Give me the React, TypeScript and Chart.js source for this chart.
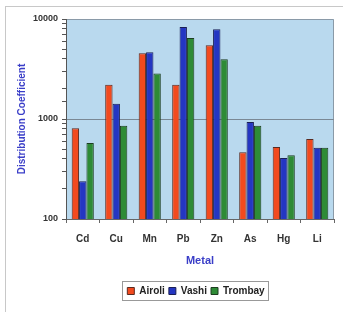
import React, { useEffect, useRef } from "react";
import { Chart, registerables } from "chart.js";
Chart.register(...registerables);

const categories = ["Cd", "Cu", "Mn", "Pb", "Zn", "As", "Hg", "Li"];
const airoli = [810, 2200, 4540, 2200, 5460, 464, 525, 630];
const vashi = [238, 1420, 4650, 8300, 7900, 935, 408, 515];
const trombay = [575, 855, 2850, 6440, 3950, 855, 435, 515];
const yLabels = [100, 1000, 10000];

const frame = {
  id: "frame",
  beforeDraw(chart: any) {
    const { ctx, chartArea: a } = chart;
    ctx.save();
    ctx.fillStyle = "#ffffff";
    ctx.fillRect(0, 0, chart.width, chart.height);
    ctx.strokeStyle = "#c8c8c8";
    ctx.lineWidth = 1;
    ctx.strokeRect(5.5, 6.5, chart.width, chart.height);
    ctx.fillStyle = "#b9d9ee";
    ctx.fillRect(a.left, a.top, a.right - a.left, a.bottom - a.top);
    ctx.strokeStyle = "#8a9aa8";
    ctx.beginPath();
    ctx.moveTo(a.left, a.top + 0.5);
    ctx.lineTo(a.right - 0.5, a.top + 0.5);
    ctx.lineTo(a.right - 0.5, a.bottom);
    ctx.stroke();
    ctx.restore();
  },
  afterLayout(chart: any) {
    const lg = chart.legend;
    if (lg) {
      lg.left += 24;
      lg.right += 24;
    }
  },
  afterDraw(chart: any) {
    const lg = chart.legend;
    if (!lg || !lg.legendHitBoxes || !lg.legendHitBoxes.length) return;
    const hb = lg.legendHitBoxes;
    const ctx = chart.ctx;
    const first = hb[0];
    const last = hb[hb.length - 1];
    ctx.save();
    ctx.strokeStyle = "#999999";
    ctx.lineWidth = 1;
    const x0 = Math.round(first.left) - 4.5;
    const x1 = Math.round(last.left + last.width) + 3.5;
    const y0 = Math.round(first.top) - 4.5;
    const y1 = Math.round(first.top + first.height) + 4.5;
    ctx.strokeRect(x0, y0, x1 - x0, y1 - y0);
    ctx.restore();
  },
};

export default function App() {
  const ref = useRef<HTMLCanvasElement | null>(null);
  useEffect(() => {
    document.body.style.margin = "0";
    const chart = new Chart(ref.current as HTMLCanvasElement, {
      type: "bar",
      data: {
        labels: categories,
        datasets: [
          { label: "Airoli", data: airoli, backgroundColor: "#f24a1e", borderColor: "#5a2a20", borderWidth: 1 },
          { label: "Vashi", data: vashi, backgroundColor: "#2436c2", borderColor: "#1a1f55", borderWidth: 1 },
          { label: "Trombay", data: trombay, backgroundColor: "#2e8b36", borderColor: "#1d3d20", borderWidth: 1 },
        ],
      },
      options: {
        animation: false,
        responsive: false,
        layout: { padding: { left: 10, right: 9, top: 19, bottom: 6 } },
        datasets: { bar: { barPercentage: 1, categoryPercentage: 0.66 } },
        plugins: {
          tooltip: { enabled: false },
          legend: {
            position: "bottom",
            labels: {
              boxWidth: 7,
              boxHeight: 7,
              padding: 4,
              color: "#222",
              font: { family: "Liberation Sans Narrow, Liberation Sans", size: 10, weight: "bold" },
            },
          },
        },
        scales: {
          x: {
            grid: { offset: true, drawOnChartArea: false, tickLength: 4, color: "#666" },
            border: { color: "#666" },
            ticks: { padding: 10, color: "#333", font: { family: "Liberation Sans", size: 10, weight: "bold" } },
            title: {
              display: true,
              text: "Metal",
              color: "#3a3ec8",
              padding: { top: 0, bottom: 14 },
              font: { family: "Liberation Sans", size: 11, weight: "bold" },
            },
            afterFit: (s: any) => { s.height = 63; },
          },
          y: {
            type: "logarithmic",
            min: 100,
            max: 10000,
            border: { color: "#555" },
            grid: {
              color: (c: any) => (c.tick && c.tick.value === 1000 ? "#7a8894" : "rgba(0,0,0,0)"),
              tickColor: "#555",
              tickLength: 4,
            },
            ticks: {
              autoSkip: false,
              padding: 4,
              color: "#333",
              font: { family: "Liberation Sans", size: 9, weight: "bold" },
              callback: (v: any) => (yLabels.includes(Number(v)) ? String(v) : ""),
            },
            title: {
              display: true,
              text: "Distribution Coefficient",
              color: "#3a3ec8",
              padding: { top: 6, bottom: 0 },
              font: { family: "Liberation Sans", size: 10, weight: "bold" },
            },
            afterFit: (s: any) => { s.width = 56; },
          },
        },
      },
      plugins: [frame],
    } as any);
    return () => chart.destroy();
  }, []);
  return <canvas ref={ref} width={343} height={312} style={{ display: "block" }} />;
}
